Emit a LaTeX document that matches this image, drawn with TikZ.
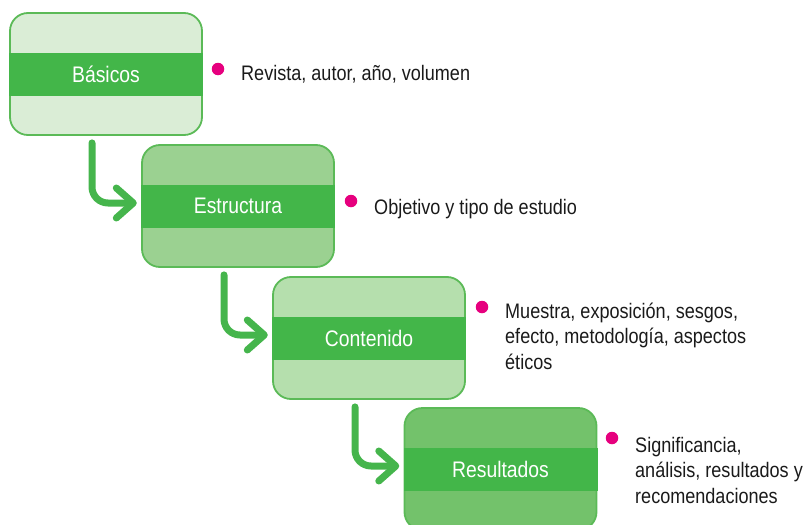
\documentclass[tikz,border=0pt]{standalone}
\usepackage{fontspec}
\setmainfont[FakeStretch=0.86]{Liberation Sans}
\usetikzlibrary{arrows.meta,calc}
\definecolor{bandgreen}{HTML}{43B649}
\definecolor{bordergreen}{HTML}{5BBA57}
\definecolor{arrowgreen}{HTML}{45B54C}
\definecolor{fillA}{HTML}{DAEDD6}
\definecolor{fillB}{HTML}{9BD191}
\definecolor{fillC}{HTML}{B5DFAD}
\definecolor{fillD}{HTML}{73C26B}
\definecolor{dotpink}{HTML}{E6007E}
\definecolor{textblack}{HTML}{1A1A1A}
\begin{document}
\begin{tikzpicture}[x=1pt,y=-1pt,
 stage/.style={draw=bordergreen, line width=1.8pt, rounded corners=18pt, minimum width=192pt, minimum height=122pt, inner sep=0pt},
 band/.style={fill=bandgreen, minimum width=194pt, minimum height=43pt, inner sep=0pt, text=white, font=\fontsize{22.5}{26}\selectfont},
 dot/.style={circle, fill=dotpink, minimum size=12.5pt, inner sep=0pt},
 desc/.style={anchor=base west, inner sep=0pt, align=left, text=textblack, font=\fontsize{21}{25.5}\selectfont},
 flow/.style={draw=arrowgreen, line width=7pt, line cap=round, line join=round, rounded corners=16pt, -{Straight Barb[length=17pt,width=30pt,line cap=round,line join=round]}}]
\clip (0,0) rectangle (807,525);
\node[stage, fill=fillA] (b1) at (106,74) {};
\node[band] (t1) at (b1.center) {Básicos};
\node[stage, fill=fillB] (b2) at (238,206) {};
\node[band] (t2) at (b2.center) {Estructura};
\node[stage, fill=fillC] (b3) at (369,338) {};
\node[band] (t3) at (b3.center) {Contenido};
\node[stage, fill=fillD] (b4) at (500.5,469) {};
\node[band] (t4) at (b4.center) {Resultados};
\draw[flow] ($(b1.south)+(-14,7)$) |- ($(t2.west)+(-4,-3)$);
\draw[flow] ($(b2.south)+(-14,7)$) |- ($(t3.west)+(-4,-3)$);
\draw[flow] ($(b3.south)+(-14,7)$) |- ($(t4.west)+(-4,-3)$);
\node[dot] (p1) at (218,69) {};
\node[desc] (d1) at (241,80) {Revista, autor, año, volumen};
\node[dot] (p2) at (351,201) {};
\node[desc] (d2) at (374,214) {Objetivo y tipo de estudio};
\node[dot] (p3) at (482,307) {};
\node[desc] (d3) at (505,369) {Muestra, exposición, sesgos,\\efecto, metodología, aspectos\\éticos};
\node[dot] (p4) at (612,438) {};
\node[desc] (d4) at (635,503) {Significancia,\\análisis, resultados y\\recomendaciones};
\end{tikzpicture}
\end{document}
